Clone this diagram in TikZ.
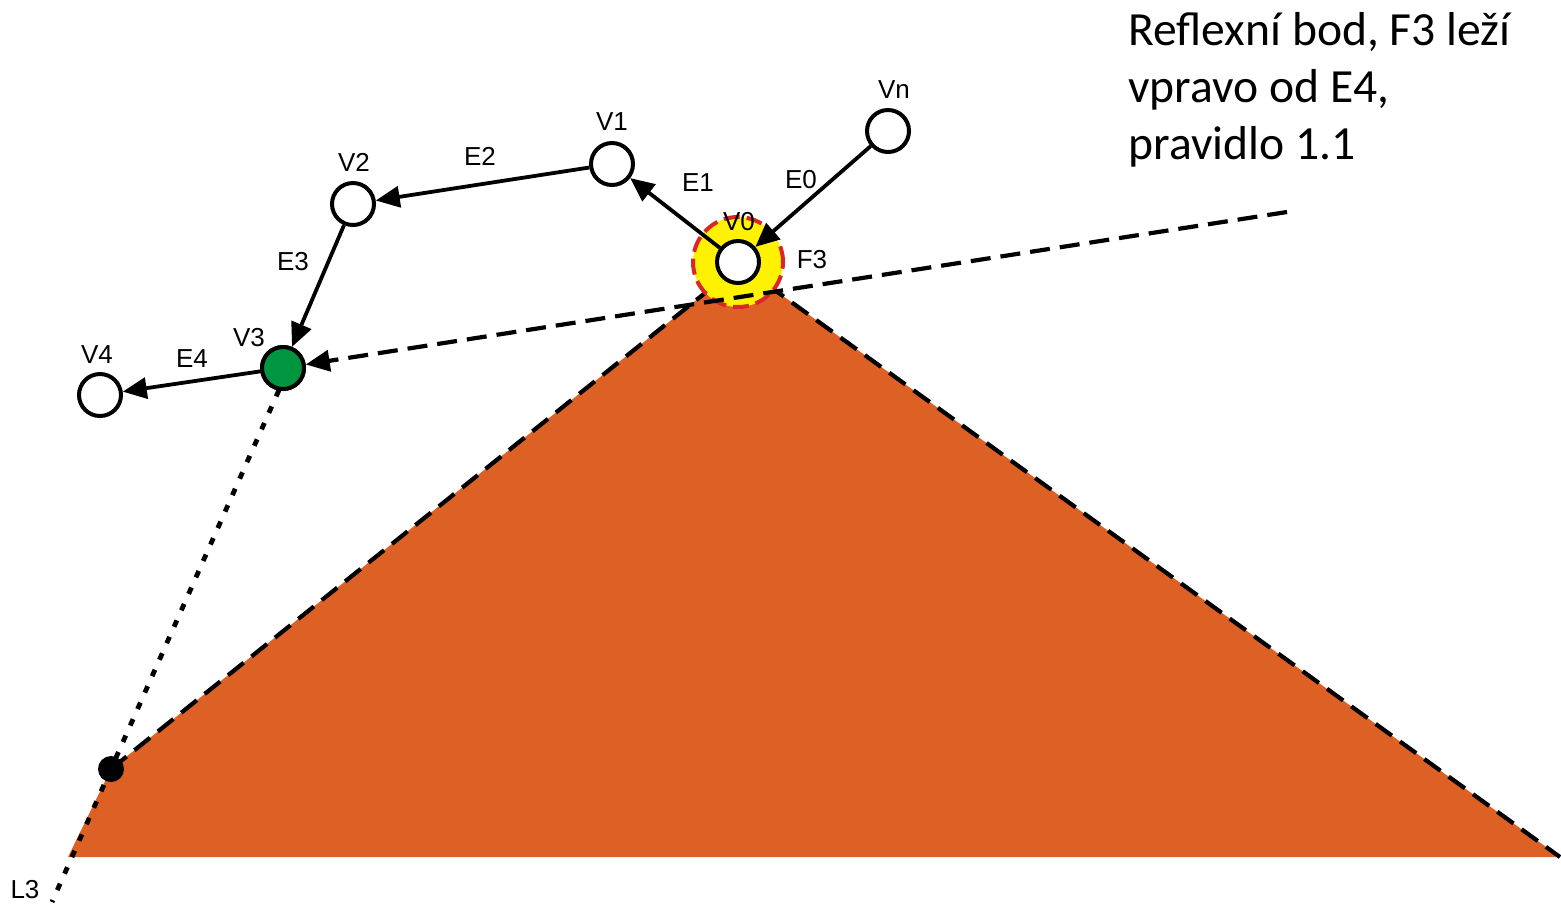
\documentclass[tikz,border=0pt]{standalone}
\usepackage{fontspec}
\setmainfont{Carlito}
\newfontfamily\arialf{Liberation Sans}
\usetikzlibrary{arrows.meta}
\definecolor{terra}{HTML}{DD6125}
\definecolor{halo}{HTML}{FFF200}
\definecolor{halored}{HTML}{D9262B}
\definecolor{vgreen}{HTML}{00953F}
\tikzset{
  vert/.style={circle,draw=black,line width=2pt,fill=white,minimum size=21pt,inner sep=0pt},
  lbl/.style={font=\arialf\fontsize{13}{15}\selectfont,inner sep=0pt},
  edge/.style={line width=1.9pt,-{Triangle[length=12pt,width=10.5pt]}},
  longdash/.style={line width=2.1pt,dash pattern=on 10pt off 5pt},
  dotline/.style={line width=2.4pt,dash pattern=on 3.5pt off 5.5pt},
}
\begin{document}
\begin{tikzpicture}[x=0.5pt,y=-0.5pt]
\useasboundingbox (0,0) rectangle (1561,907);
% triangle
\coordinate (A) at (740,265);
\coordinate (BL) at (68,857);
\coordinate (BR) at (1560,857);
\coordinate (K) at (111,769);
\coordinate (L3end) at (52,902);
\fill[terra] (BL) -- (K) -- (A) -- (BR) -- cycle;
\draw[longdash] (K) -- (A) -- (BR);
% halo
\node[circle,fill=halo,draw=halored,line width=2pt,dash pattern=on 8pt off 3.5pt,minimum size=45pt,inner sep=0pt] (H) at (738,262) {};
% vertices
\node[vert] (V0) at (738,262) {};
\node[vert] (Vn) at (888,131) {};
\node[vert] (V1) at (612,164) {};
\node[vert] (V2) at (353,204) {};
\node[vert,fill=vgreen] (V3) at (283,368) {};
\node[vert] (V4) at (100,395) {};
% L3 dotted
\draw[dotline] (V3) ++(-4,22) -- (L3end);
\fill[black] (K) circle (6.5pt);
\node[vert,fill=vgreen] (V3b) at (V3) {};
% edges
\draw[edge] (Vn) -- (V0);
\draw[edge] (V0) -- (V1);
\draw[edge] (V1) -- (V2);
\draw[edge] (V2) -- (V3);
\draw[edge] (V3) -- (V4);
\coordinate (Fend) at (1287,212);
\draw[longdash,-{Triangle[length=12pt,width=10.5pt]}] (Fend) -- (V3);
% labels
\node[lbl] (lV0) at (739,222) {V0};
\node[lbl] (lVn) at (894,90) {Vn};
\node[lbl] (lV1) at (612,122) {V1};
\node[lbl] (lV2) at (354,162) {V2};
\node[lbl] (lV3) at (249,338) {V3};
\node[lbl] (lV4) at (97,355) {V4};
\node[lbl] (lE0) at (801,180) {E0};
\node[lbl] (lE1) at (698,183) {E1};
\node[lbl] (lE2) at (480,156) {E2};
\node[lbl] (lE3) at (293,262) {E3};
\node[lbl] (lE4) at (192,359) {E4};
\node[lbl] (lF3) at (812,260) {F3};
\node[lbl] (lL3) at (25,890) {L3};
\node[anchor=north west,align=left,inner sep=0pt,font=\fontsize{23.8}{28.5}\selectfont] (txt) at (1128,12) {Reflexní bod, F3 leží\\vpravo od E4,\\pravidlo 1.1};
\end{tikzpicture}
\end{document}
